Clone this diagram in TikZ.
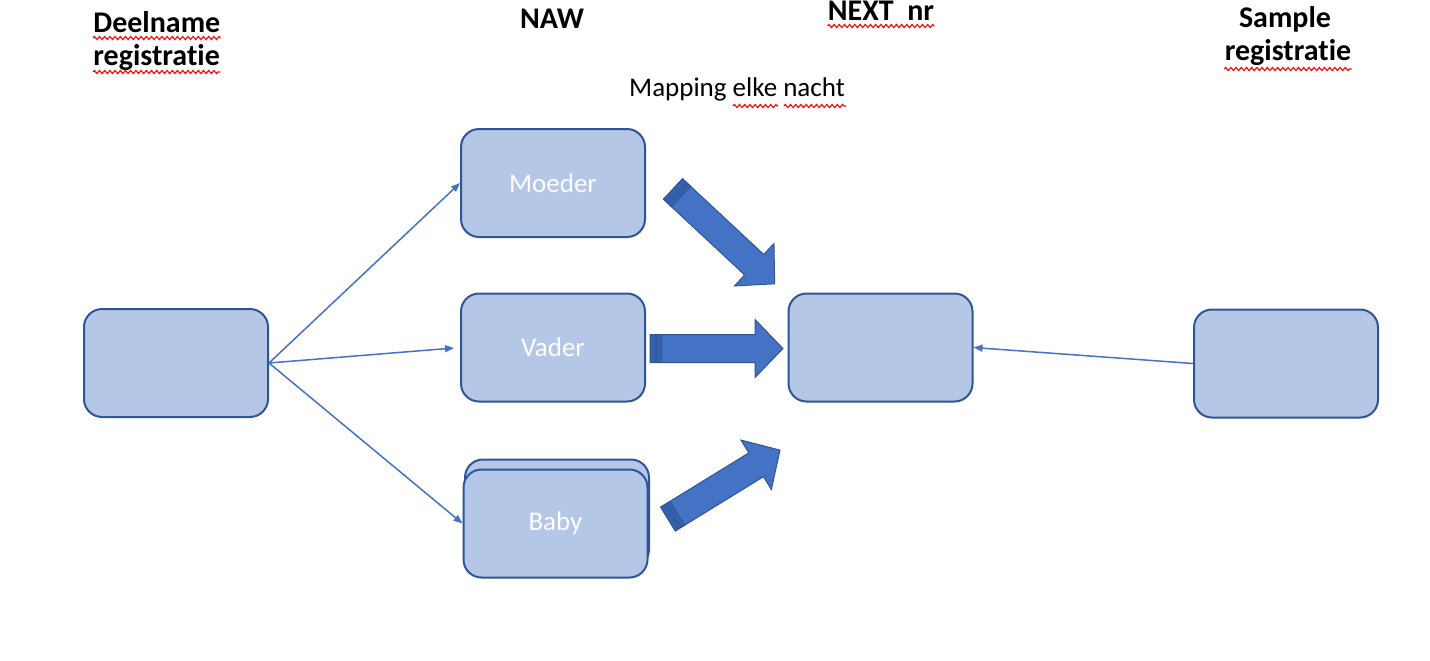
\documentclass[tikz,border=0pt]{standalone}
\usepackage{fontspec}
\setmainfont{Carlito}[Ligatures=NoCommon]
\usetikzlibrary{arrows.meta,decorations.pathmorphing}
\definecolor{boxfill}{HTML}{B4C7E7}
\definecolor{boxline}{HTML}{2F5597}
\definecolor{arrblue}{HTML}{4472C4}
\definecolor{stripe}{HTML}{3560AE}
\newcommand{\blockarr}[3]{%
\begin{scope}[shift={(#1)}, rotate=#2]
\draw[fill=arrblue, draw=boxline, line width=0.5pt] (0,-14) -- (#3-28,-14) -- (#3-28,-29) -- (#3,0) -- (#3-28,29) -- (#3-28,14) -- (0,14) -- cycle;
\draw[fill=stripe, draw=boxline, line width=0.4pt] (0,-14) rectangle (5,14);
\draw[fill=stripe, draw=boxline, line width=0.4pt] (6.5,-14) rectangle (11,14);
\end{scope}}
\begin{document}
\begin{tikzpicture}[x=0.5pt, y=-0.5pt,
  regbox/.style={rectangle, rounded corners=9pt, draw=boxline, fill=boxfill, line width=1pt, minimum width=92pt, minimum height=54pt, text=white, font=\fontsize{13.5}{16}\selectfont},
  heading/.style={inner sep=0pt, font=\fontsize{15}{18}\selectfont\bfseries},
  thinarr/.style={draw=arrblue, line width=0.75pt, -{Triangle[length=4.5pt,width=3.5pt]}},
  squiggle/.style={draw=red, line width=0.55pt, decorate, decoration={zigzag, segment length=2.6pt, amplitude=0.8pt}}]
\useasboundingbox (0,0) rectangle (1430,660);
\node[heading, anchor=base west] (deel1) at (93,32) {Deelname};
\node[heading, anchor=base west] (deel2) at (93,65) {registratie};
\node[heading, anchor=base] (naw) at (552,28) {NAW};
\node[heading, anchor=base] (next) at (881,20) {NEXT\ \ nr};
\node[heading, anchor=base] (samp1) at (1285,27) {Sample};
\node[heading, anchor=base] (samp2) at (1288,60) {registratie};
\node[inner sep=0pt, anchor=base, font=\fontsize{13.5}{16}\selectfont] (mapping) at (737,96) {Mapping elke nacht};
\draw[squiggle] ([yshift=-3pt]deel1.base west) -- ([yshift=-3pt]deel1.base east);
\draw[squiggle] ([yshift=-3.5pt]deel2.base west) -- ([yshift=-3.5pt]deel2.base east);
\draw[squiggle] ([yshift=-3pt]next.base west) -- ([yshift=-3pt]next.base east);
\draw[squiggle] ([yshift=-4.5pt]samp2.base west) -- ([yshift=-4.5pt]samp2.base east);
\draw[squiggle] (733,106) -- (778,106);
\draw[squiggle] (784,106) -- (846,106);
\node[regbox] (deel) at (176,363) {};
\node[regbox] (moeder) at (553,183) {Moeder};
\node[regbox] (vader) at (553,347.5) {Vader};
\node[regbox] (babyback) at (557,513.5) {};
\node[regbox] (baby) at (555.5,523.5) {Baby};
\node[regbox] (nextbox) at (880.5,347.5) {};
\node[regbox] (sample) at (1286,363.5) {};
\draw[thinarr] (deel.east) -- (moeder.west);
\draw[thinarr, shorten >=3pt] (deel.east) -- (vader.west);
\draw[thinarr] (deel.east) -- (baby.west);
\draw[thinarr] (sample.west) -- (nextbox.east);
\blockarr{673,189}{-43}{139}
\blockarr{650,348.5}{0}{133}
\blockarr{668,519}{31.6}{131.5}
\end{tikzpicture}
\end{document}
